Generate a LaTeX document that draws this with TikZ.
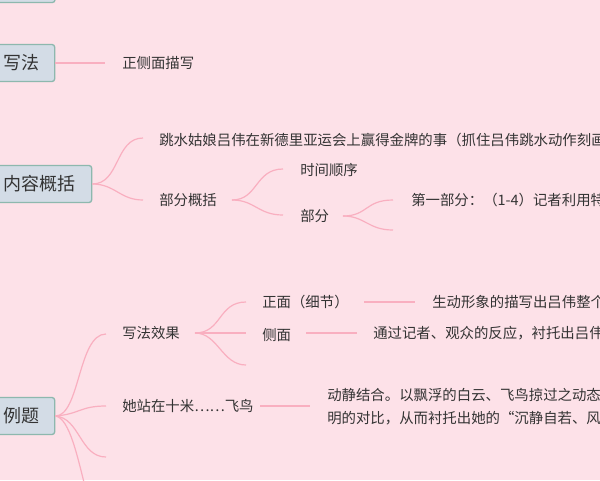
\documentclass[tikz,border=0pt]{standalone}
\usepackage{fontspec}
\newfontfamily\cjk{Noto Sans CJK SC}
\definecolor{bg}{HTML}{FDE1E8}
\definecolor{boxf}{HTML}{D3DCE6}
\definecolor{boxd}{HTML}{8DB8AE}
\definecolor{ln}{HTML}{F9AFC0}
\definecolor{tx}{HTML}{333333}
\begin{document}
\begin{tikzpicture}[x=0.75pt,y=-0.75pt,
  topic/.style={draw=boxd,fill=boxf,line width=1pt,rounded corners=2pt,font=\cjk\fontsize{13.5}{15}\selectfont,text=tx,inner sep=0pt,anchor=west,minimum height=27.75pt},
  leaf/.style={font=\cjk\fontsize{10.8}{17.5}\selectfont,text=tx,anchor=west,inner sep=0pt},
  br/.style={draw=ln,line width=0.9pt}]
\fill[bg] (0,0) rectangle (600,480);
\clip (0,0) rectangle (600,480);
% top box
\node[topic,minimum width=52pt] (top) at (-15,-16) {};
% 写法
\node[topic,minimum width=51.75pt,text width=51.75pt] (xf) at (-15,63) {\hspace*{13.5pt}写法};
\node[leaf] (zc) at (122,63) {正侧面描写};
\coordinate (xfa) at (105,63);
\draw[br] (xf.east) -- (xfa);
% 内容概括
\node[topic,minimum width=79.5pt,text width=79.5pt] (nr) at (-15,184) {\hspace*{13.5pt}内容概括};
\node[leaf] (n1) at (159,140) {跳水姑娘吕伟在新德里亚运会上赢得金牌的事（抓住吕伟跳水动作刻画};
\node[leaf] (n2) at (159,200) {部分概括};
\coordinate (n1a) at (143,138); \coordinate (n2a) at (143,200);
\draw[br] (nr.east) .. controls (120,184) and (115,138) .. (n1a);
\draw[br] (nr.east) .. controls (115,184) and (120,200) .. (n2a);
\node[leaf] (s1) at (300,170) {时间顺序};
\node[leaf] (s2) at (300,216) {部分};
\coordinate (s1a) at (283,169); \coordinate (s2a) at (283,215);
\draw[br] (232,200) .. controls (258,200) and (255,169) .. (s1a);
\draw[br] (232,200) .. controls (255,200) and (258,215) .. (s2a);
\node[leaf] (p1) at (411,200) {第一部分：（1-4）记者利用特写};
\coordinate (p1a) at (393,200); \coordinate (p2a) at (393,230);
\draw[br] (343,216) .. controls (368,216) and (365,200) .. (p1a);
\draw[br] (343,216) .. controls (365,216) and (368,230) .. (p2a);
% 例题
\node[topic,minimum width=51.75pt,text width=51.75pt] (lt) at (-15,416) {\hspace*{13.5pt}例题};
\node[leaf] (e1) at (122,333) {写法效果};
\node[leaf] (e2) at (122,406) {她站在十米……飞鸟};
\coordinate (e1a) at (106,334); \coordinate (e2a) at (106,406);
\coordinate (e3a) at (106,457); \coordinate (e4a) at (86,490);
\draw[br] (lt.east) .. controls (80,416) and (78,334) .. (e1a);
\draw[br] (lt.east) .. controls (80,414) and (80,406) .. (e2a);
\draw[br] (lt.east) .. controls (80,418) and (80,457) .. (e3a);
\draw[br] (lt.east) .. controls (70,418) and (78,460) .. (e4a);
\node[leaf] (f1) at (262,302) {正面（细节）};
\node[leaf] (f2) at (262,335) {侧面};
\coordinate (f1a) at (246,302); \coordinate (f2a) at (246,333); \coordinate (f3a) at (246,365);
\draw[br] (195,333) .. controls (222,333) and (218,302) .. (f1a);
\draw[br] (195,333) -- (f2a);
\draw[br] (195,333) .. controls (218,333) and (222,365) .. (f3a);
\node[leaf] (g1) at (432,302) {生动形象的描写出吕伟整个};
\draw[br] (364,302) -- (415,302);
\node[leaf] (g2) at (373,333) {通过记者、观众的反应，衬托出吕伟};
\draw[br] (306,333) -- (357,333);
\node[leaf,align=left] (h1) at (327,407) {动静结合。以飘浮的白云、飞鸟掠过之动态\\明的对比，从而衬托出她的“沉静自若、风度};
\draw[br] (260,406) -- (310,406);
\end{tikzpicture}
\end{document}
